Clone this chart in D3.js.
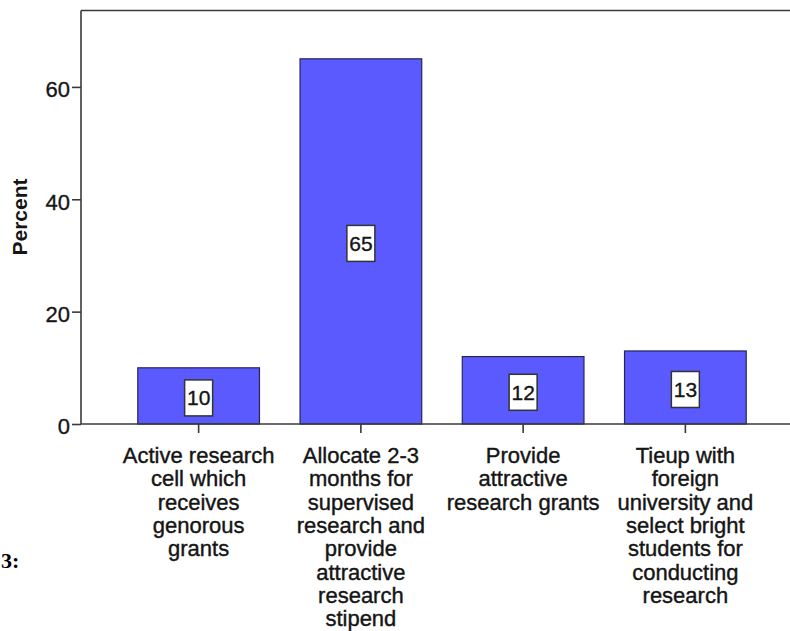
<!DOCTYPE html>
<html>
<head>
<meta charset="utf-8">
<script src="https://cdn.jsdelivr.net/npm/d3@7"></script>
<style>
  html, body { margin: 0; padding: 0; background: #fff; }
  svg { display: block; }
</style>
</head>
<body>
<svg id="chart" width="790" height="631"></svg>
<script>
// Survey responses: share of respondents choosing each option
const categories = [
  ["Active research", "cell which", "receives", "genorous", "grants"],
  ["Allocate 2-3", "months for", "supervised", "research and", "provide", "attractive", "research", "stipend"],
  ["Provide", "attractive", "research grants"],
  ["Tieup with", "foreign", "university and", "select bright", "students for", "conducting", "research"]
];
const percents = [10, 65, 12, 13];
const yTicks = [0, 20, 40, 60];

const svg = d3.select("#chart");
const plotLeft = 81, plotTop = 10.5, plotBottom = 424, plotRight = 803;
const font = "Liberation Sans, Arial, sans-serif";
const ink = "#151515";

const x = d3.scaleBand()
  .domain(d3.range(categories.length))
  .range([plotLeft, plotRight])
  .paddingInner(0.25)
  .paddingOuter(0.35);

const y = d3.scaleLinear()
  .domain([0, 73.6])
  .range([plotBottom, plotTop]);

const axisColor = "#3a3a3a";

// top frame line
svg.append("line")
  .attr("x1", plotLeft).attr("x2", 790)
  .attr("y1", plotTop).attr("y2", plotTop)
  .attr("stroke", axisColor).attr("stroke-width", 1.6);

// bars
svg.append("g").selectAll("rect")
  .data(percents)
  .join("rect")
  .attr("x", (d, i) => x(i))
  .attr("width", x.bandwidth())
  .attr("y", d => y(d))
  .attr("height", d => y(0) - y(d))
  .attr("fill", "#5a5aff")
  .attr("stroke", "#25255a")
  .attr("stroke-width", 1.2);

// y axis
const yAxis = svg.append("g")
  .attr("transform", `translate(${plotLeft},0)`)
  .call(d3.axisLeft(y).tickValues(yTicks).tickSize(9).tickPadding(2).tickFormat(d3.format("d")));
yAxis.select(".domain").attr("d", `M0,${plotBottom}V${plotTop}`).attr("stroke", axisColor).attr("stroke-width", 1.6);
yAxis.selectAll(".tick line").attr("stroke", axisColor).attr("stroke-width", 1.6);
yAxis.selectAll(".tick text")
  .attr("font-family", font)
  .attr("font-size", 22)
  .attr("dy", "0.45em")
  .attr("fill", ink)
  .attr("stroke", ink)
  .attr("stroke-width", 0.35);

// x axis
const xAxis = svg.append("g")
  .attr("transform", `translate(0,${plotBottom})`)
  .call(d3.axisBottom(x).tickSize(9).tickFormat(""));
xAxis.select(".domain").attr("d", `M${plotLeft},0H790`).attr("stroke", axisColor).attr("stroke-width", 1.6);
xAxis.selectAll(".tick line").attr("stroke", axisColor).attr("stroke-width", 1.6);

// category labels, one tspan per line
const lineH = 23.3;
svg.append("g").selectAll("text")
  .data(categories)
  .join("text")
  .attr("x", (d, i) => x(i) + x.bandwidth() / 2)
  .attr("y", plotBottom + 39)
  .attr("text-anchor", "middle")
  .attr("font-family", font)
  .attr("font-size", 22)
  .attr("fill", ink)
  .attr("stroke", ink)
  .attr("stroke-width", 0.4)
  .each(function(lines) {
    const cx = d3.select(this).attr("x");
    d3.select(this).selectAll("tspan")
      .data(lines)
      .join("tspan")
      .attr("x", cx)
      .attr("dy", (l, j) => j === 0 ? 0 : lineH)
      .text(l => l);
  });

// value label boxes
const labels = svg.append("g").selectAll("g")
  .data(percents)
  .join("g")
  .attr("transform", (d, i) => `translate(${x(i) + x.bandwidth() / 2},${(y(d) + y(0)) / 2 + 2})`);
labels.append("rect")
  .attr("x", -14).attr("y", -18)
  .attr("width", 28).attr("height", 36)
  .attr("fill", "#fff")
  .attr("stroke", "#333")
  .attr("stroke-width", 1.5);
labels.append("text")
  .attr("text-anchor", "middle")
  .attr("dy", "0.36em")
  .attr("font-family", font)
  .attr("font-size", 21)
  .attr("fill", ink)
  .attr("stroke", ink)
  .attr("stroke-width", 0.35)
  .text(d => d);

// y axis title
svg.append("text")
  .attr("transform", "translate(27,217) rotate(-90)")
  .attr("text-anchor", "middle")
  .attr("font-family", font)
  .attr("font-size", 21)
  .attr("font-weight", "bold")
  .attr("fill", ink)
  .text("Percent");

// figure number fragment at the left margin
svg.append("text")
  .attr("x", 1).attr("y", 568)
  .attr("font-family", "Liberation Serif, Times New Roman, serif")
  .attr("font-size", 22)
  .attr("font-weight", "bold")
  .attr("fill", "#000")
  .text("3:");
</script>
</body>
</html>
